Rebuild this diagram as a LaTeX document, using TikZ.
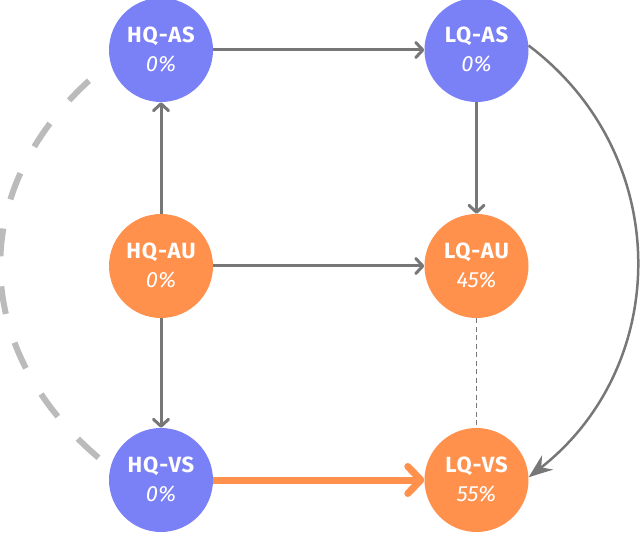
\documentclass[tikz,border=0pt]{standalone}
\usepackage{fontspec}
\setmainfont{Fira Sans}
\newfontfamily\namefont[LetterSpace=4]{Fira Sans}
\usetikzlibrary{arrows.meta}
\definecolor{nodeblue}{HTML}{7A80F5}
\definecolor{nodeorange}{HTML}{FF914D}
\definecolor{edgegray}{HTML}{777777}
\definecolor{lightgray}{HTML}{BBBBBB}
\tikzset{
  state/.style={circle, minimum size=104pt, inner sep=0pt, text=white, align=center, font=\fontsize{22}{29}\selectfont},
  bluestate/.style={state, fill=nodeblue},
  orangestate/.style={state, fill=nodeorange},
  flow/.style={draw=edgegray, line width=3pt, -{Straight Barb[length=7pt,width=15pt,line cap=round,line join=round]}},
  mainflow/.style={draw=nodeorange, line width=7pt, -{Straight Barb[length=13pt,width=27pt,line cap=round,line join=round]}},
  weak/.style={draw=edgegray, line width=1.5pt, dash pattern=on 5pt off 3.5pt},
  loop/.style={draw=lightgray, line width=6pt, dash pattern=on 28pt off 30pt},
  curved/.style={draw=edgegray, line width=2.5pt, -{Stealth[length=24pt,width=18pt,inset=8pt]}}
}
\newcommand{\stlabel}[2]{{\namefont\bfseries #1}\\{\itshape #2}}
\begin{document}
\begin{tikzpicture}[x=1pt,y=-1pt]
\useasboundingbox (0,0) rectangle (640,534);
\node[bluestate] (hqas) at (161,50) {\stlabel{HQ-AS}{0\%}};
\node[bluestate] (lqas) at (476.5,50) {\stlabel{LQ-AS}{0\%}};
\node[orangestate] (hqau) at (161,266) {\stlabel{HQ-AU}{0\%}};
\node[orangestate] (lqau) at (476.5,266) {\stlabel{LQ-AU}{45\%}};
\node[bluestate] (hqvs) at (161,480) {\stlabel{HQ-VS}{0\%}};
\node[orangestate] (lqvs) at (476.5,480) {\stlabel{LQ-VS}{55\%}};

\draw[flow] (hqas) -- (lqas);
\draw[flow] (hqau) -- (hqas);
\draw[flow] (hqau) -- (lqau);
\draw[flow] (hqau) -- (hqvs);
\draw[flow] (lqas) -- (lqau);
\draw[weak] (lqau) -- (lqvs);
\draw[mainflow] (hqvs) -- (lqvs);
\draw[curved] (lqas.5) to[out=-37,in=38,looseness=1.08] (lqvs.3);
\draw[loop, dash phase=30pt] (hqas.194) to[out=218,in=142,looseness=1.18] (hqvs.166);
\end{tikzpicture}
\end{document}
